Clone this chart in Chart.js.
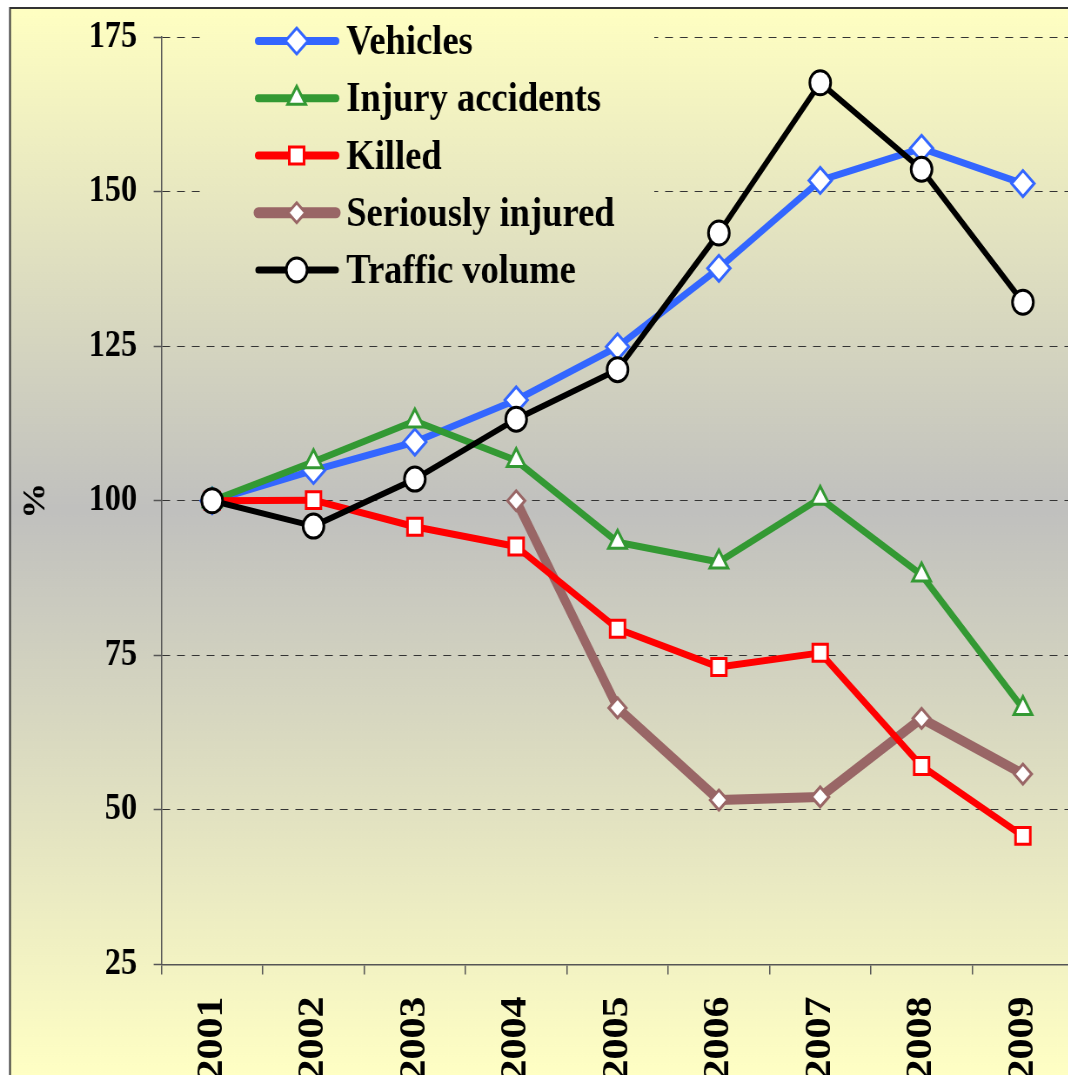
<!DOCTYPE html>
<html lang="en">
<head>
    <meta charset="UTF-8">
    <title>Road safety index 2001-2009</title>
    <script src="https://cdn.jsdelivr.net/npm/chart.js"></script>
    <style>
        * { margin: 0; padding: 0; box-sizing: border-box; }
        html, body { width: 1068px; height: 1075px; overflow: hidden; background: white; }
        #chart {
            display: block;
            transform: scaleX(0.87);
            transform-origin: 0 0;
        }
    </style>
</head>
<body>
    <canvas id="chart" width="1250" height="1075"></canvas>

    <script>
        // index, 2001 = 100
        const years = ['2001', '2002', '2003', '2004', '2005', '2006', '2007', '2008', '2009'];
        const vehicles = [100, 104.9, 109.5, 116.3, 124.9, 137.6, 151.8, 157, 151.3];
        const injuryAccidents = [100, 106.3, 112.9, 106.5, 93.3, 90.1, 100.4, 88, 66.4];
        const killed = [100, 100.1, 95.8, 92.6, 79.3, 73.1, 75.4, 57.1, 45.8];
        const seriouslyInjured = [null, null, null, 100, 66.5, 51.6, 52.1, 64.8, 55.8];
        const trafficVolume = [100, 95.9, 103.5, 113.2, 121.2, 143.3, 167.6, 153.6, 132.1];
        const yTicks = [25, 50, 75, 100, 125, 150, 175];

        const serif = "'Liberation Serif', 'Times New Roman', serif";

        function makeGradient(ctx, h) {
            const g = ctx.createLinearGradient(0, 8, 0, h);
            g.addColorStop(0, '#FFFFC2');
            g.addColorStop(0.47, '#C0C0BE');
            g.addColorStop(1, '#FFFFC4');
            return g;
        }

        const background = {
            id: 'background',
            beforeDraw(chart) {
                const ctx = chart.ctx, w = chart.width, h = chart.height;
                ctx.save();
                ctx.fillStyle = '#fff';
                ctx.fillRect(0, 0, w, h);
                ctx.fillStyle = makeGradient(ctx, h);
                ctx.fillRect(11.5, 8, w, h);
                ctx.strokeStyle = '#333';
                ctx.lineWidth = 2;
                ctx.beginPath();
                ctx.moveTo(11.5, h);
                ctx.lineTo(11.5, 8);
                ctx.lineTo(w, 8);
                ctx.stroke();
                ctx.restore();
            }
        };

        // legend sits inside the plot, top left, covering the grid
        const insideLegend = {
            id: 'insideLegend',
            afterDraw(chart) {
                const ctx = chart.ctx;
                ctx.save();
                ctx.fillStyle = makeGradient(ctx, chart.height);
                ctx.fillRect(230, 10, 522, 290);
                chart.data.datasets.forEach((ds, row) => {
                    const y = 41 + row * 57.25;
                    ctx.strokeStyle = ds.borderColor;
                    ctx.lineWidth = ds.borderWidth + 1;
                    ctx.lineCap = 'round';
                    ctx.beginPath();
                    ctx.moveTo(297, y);
                    ctx.lineTo(386, y);
                    ctx.stroke();
                    ctx.fillStyle = ds.pointBackgroundColor;
                    ctx.strokeStyle = ds.pointBorderColor;
                    ctx.lineWidth = ds.pointBorderWidth;
                    Chart.helpers.drawPoint(ctx, {
                        pointStyle: ds.pointStyle,
                        radius: ds.pointRadius,
                        rotation: 0,
                        borderWidth: ds.pointBorderWidth
                    }, 341, y);
                    ctx.fillStyle = '#000';
                    ctx.font = 'bold 42px ' + serif;
                    ctx.textBaseline = 'alphabetic';
                    ctx.textAlign = 'left';
                    ctx.fillText(ds.label, 398, y + 13);
                });
                ctx.restore();
            }
        };

        function series(label, data, color, width, style, radius, order) {
            return {
                label: label,
                data: data,
                borderColor: color,
                borderWidth: width,
                borderJoinStyle: 'round',
                pointStyle: style,
                pointRadius: radius,
                pointHoverRadius: radius,
                pointBackgroundColor: '#fff',
                pointBorderColor: color,
                pointBorderWidth: 3,
                tension: 0,
                spanGaps: false,
                order: order
            };
        }

        new Chart(document.getElementById('chart'), {
            type: 'line',
            data: {
                labels: years,
                datasets: [
                    series('Vehicles', vehicles, '#3366FF', 7, 'rectRot', 13, 5),
                    series('Injury accidents', injuryAccidents, '#339933', 7, 'triangle', 12, 4),
                    series('Killed', killed, '#FF0000', 7, 'rect', 12, 2),
                    series('Seriously injured', seriouslyInjured, '#996666', 10, 'rectRot', 10, 3),
                    series('Traffic volume', trafficVolume, '#000000', 6, 'circle', 12, 1)
                ]
            },
            options: {
                responsive: false,
                animation: false,
                devicePixelRatio: 1,
                layout: { padding: { top: 37, right: 2, bottom: 0, left: 0 } },
                plugins: { legend: { display: false }, tooltip: { enabled: false } },
                scales: {
                    x: {
                        offset: true,
                        grid: {
                            offset: true, drawOnChartArea: false, drawTicks: true,
                            tickLength: 10, color: '#555', lineWidth: 1.5
                        },
                        border: { display: true, color: '#555', width: 1.5 },
                        ticks: {
                            autoSkip: false, minRotation: 90, maxRotation: 90, padding: 22,
                            color: '#000', font: { family: serif, size: 42, weight: 'bold' }
                        },
                        afterFit(scale) {
                            scale.height = 110.5;
                            scale.paddingLeft = 0;
                            scale.paddingRight = 0;
                        }
                    },
                    y: {
                        min: 25, max: 175,
                        afterBuildTicks(scale) { scale.ticks = yTicks.map(v => ({ value: v })); },
                        grid: {
                            color: '#333', lineWidth: 1, tickLength: 9,
                            tickColor: '#555', tickWidth: 1.5, tickBorderDash: []
                        },
                        border: { display: true, color: '#555', width: 1.5, dash: [9, 8] },
                        ticks: {
                            padding: 19, color: '#000',
                            font: { family: serif, size: 37, weight: 'bold' }
                        },
                        title: {
                            display: true, text: '%', color: '#000',
                            font: { family: serif, size: 36, weight: 'bold' },
                            padding: { top: 20, bottom: 0 }
                        },
                        afterFit(scale) {
                            scale.width = 185.6;
                            scale.paddingTop = 0;
                            scale.paddingBottom = 0;
                        }
                    }
                }
            },
            plugins: [background, insideLegend]
        });
    </script>
</body>
</html>
